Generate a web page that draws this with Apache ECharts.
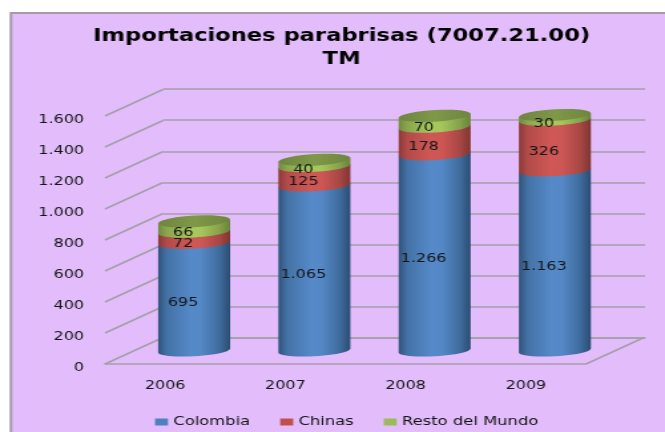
<!DOCTYPE html>
<html>
<head>
<meta charset="utf-8">
<style>
html,body{margin:0;padding:0;width:665px;height:432px;overflow:hidden;background:#fff}
#c{position:absolute;left:0;top:0;width:500px;height:432px;transform-origin:0 0;transform:scaleX(1.33)}
</style>
<script src="https://cdn.jsdelivr.net/npm/echarts@6/dist/echarts.min.js"></script>
</head>
<body>
<div id="c"></div>
<script>
const years = ['2006','2007','2008','2009'];
const colombia = [695,1065,1266,1163];
const chinas = [72,125,178,326];
const resto = [66,40,70,30];
const yMax = 1600, yStep = 200;
const titleText = 'Importaciones parabrisas (7007.21.00)\nTM';

const K = 1.33;                // the picture is stretched horizontally
const px = v => v / K;
const FONT = '"DejaVu Sans", sans-serif';
const ticks = [];
for (let v = 0; v <= yMax; v += yStep) ticks.push(v);
const fmt = v => String(v).replace(/\B(?=(\d{3})+$)/g, '.');

const stacks = [colombia, chinas, resto];
const names = ['Colombia','Chinas','Resto del Mundo'];
const mains = ['#4f81bd','#c0504d','#9bbb59'];
const grads = [
  ['#2f5378','#4472a6','#5589c8','#5488c6','#3f6c9e','#2b4c72'],
  ['#8a3a38','#b24b49','#cf5856','#cd5755','#a84745','#7f3533'],
  ['#6f8a3e','#8aa64e','#a6c85c','#a4c65b','#86a24b','#688238']
];
const hw = px(36), ry = 5.8, slope = -0.055 * K;

function grad(i){
  const g = grads[i], st = [0,0.12,0.45,0.6,0.85,1];
  return {type:'linear',x:0,y:0,x2:1,y2:0,colorStops:g.map((c,j)=>({offset:st[j],color:c}))};
}
function arc(cx, cy, from, to){
  const pts = [], n = 24;
  for (let j = 0; j <= n; j++){
    const t = from + (to - from) * j / n;
    const dx = hw * Math.cos(t);
    pts.push([cx + dx, cy + ry * Math.sin(t) + slope * dx]);
  }
  return pts;
}
function cylinderItem(si){
  return function(params, api){
    const i = api.value(0);
    const base = stacks.slice(0, si).reduce((s, a) => s + a[i], 0);
    const val = stacks[si][i];
    const low = api.coord([i, base]);
    const high = api.coord([i, base + val]);
    const mid = api.coord([i, base + val / 2]);
    const cx = low[0];
    const bottom = arc(cx, low[1], Math.PI, 0);
    const side = [[cx + hw, high[1] + slope * hw],[cx - hw, high[1] - slope * hw]];
    const children = [{
      type:'polygon', shape:{points: bottom.concat(side)},
      style:{fill: grad(si)}
    }];
    if (si === stacks.length - 1){
      children.push({type:'polygon', shape:{points: arc(cx, high[1], 0, 2*Math.PI)},
        style:{fill:{type:'linear',x:0,y:0,x2:1,y2:0,colorStops:[
          {offset:0,color:'#6f8540'},{offset:.5,color:'#7f9849'},{offset:1,color:'#6f8540'}]}},
        z2:5});
    }
    children.push({type:'text', z2:50, x: cx - px(11), y: mid[1] + 6.5,
      style:{text: fmt(val), fill:'#141414', font:'12px ' + FONT, align:'center', verticalAlign:'middle'}});
    return {type:'group', children};
  };
}
const cylSeries = stacks.map((arr, si) => ({
  name: names[si], type:'custom', xAxisIndex:2, yAxisIndex:2,
  itemStyle:{color: mains[si]},
  encode:{x:0,y:1},
  renderItem: cylinderItem(si),
  data: arr.map((v,i)=>[i, v]),
  clip:false, silent:true
}));

const depth = {x: px(58), y: -26.5};
const gridLine = '#a59fa9';
const wallSeries = {
  type:'custom', xAxisIndex:0, yAxisIndex:0, silent:true, clip:false, z:1,
  data: ticks.map(v => [0, v]),
  renderItem(params, api){
    const p = api.coord([0, api.value(1)]);
    const x0 = params.coordSys.x;
    return {type:'line', shape:{x1:x0, y1:p[1], x2:x0+depth.x, y2:p[1]+depth.y},
      style:{stroke:gridLine, lineWidth:1.5}};
  }
};
const floorRight = {
  type:'custom', xAxisIndex:0, yAxisIndex:0, silent:true, clip:false, z:1,
  data:[[0,0]],
  renderItem(params, api){
    const p = api.coord([0, 0]);
    const x1 = params.coordSys.x + params.coordSys.width;
    return {type:'line', shape:{x1:x1, y1:p[1], x2:x1+depth.x, y2:p[1]+depth.y},
      style:{stroke:gridLine, lineWidth:1.5}};
  }
};

const hiddenCat = {type:'category', data:years, axisLine:{show:false}, axisTick:{show:false}, axisLabel:{show:false}, splitLine:{show:false}};
const hiddenVal = {type:'value', min:0, max:yMax, interval:yStep, axisLine:{show:false}, axisTick:{show:false}, axisLabel:{show:false}, splitLine:{show:false}};

const chart = echarts.init(document.getElementById('c'), null, {width:500, height:432, renderer:'canvas'});
chart.setOption({
  animation:false,
  backgroundColor:'#ffffff',
  graphic:[{type:'rect', z:-10, silent:true,
    shape:{x:px(11), y:13, width:520, height:430},
    style:{fill:'#e3bdfb', stroke:'#a59aa9', lineWidth:2}}],
  title:{
    text:titleText, left:px(335), top:20, textAlign:'center',
    textStyle:{fontFamily:FONT, fontSize:17, fontWeight:'bold', color:'#000', lineHeight:23}
  },
  legend:{
    data:names, left:px(155), top:416, padding:0, itemWidth:px(13), itemHeight:7, itemGap:px(30), icon:'rect',
    selectedMode:false,
    textStyle:{fontFamily:FONT, fontSize:12.3, color:'#141414', padding:[0,0,0,-1]}
  },
  grid:[
    {left:px(105), width:px(481), top:116, height:248},
    {left:px(163), width:px(482), top:89, height:249},
    {left:px(134), width:px(481), top:102.5, height:248}
  ],
  xAxis:[
    {type:'category', gridIndex:0, data:years,
      axisLine:{lineStyle:{color:gridLine,width:1.5}}, axisTick:{show:false},
      axisLabel:{fontFamily:FONT, fontSize:12, color:'#141414', margin:16}},
    Object.assign({gridIndex:1}, hiddenCat, {axisLine:{show:true, onZero:false, lineStyle:{color:gridLine,width:1.5}}}),
    Object.assign({gridIndex:2}, hiddenCat)
  ],
  yAxis:[
    {type:'value', gridIndex:0, min:0, max:yMax, interval:yStep,
      axisLine:{show:false}, axisTick:{show:false}, splitLine:{show:false},
      axisLabel:{fontFamily:FONT, fontSize:12, color:'#141414', margin:px(21), verticalAlign:'top', lineHeight:8, formatter:fmt}},
    Object.assign({gridIndex:1}, hiddenVal, {splitLine:{show:true, lineStyle:{color:gridLine,width:1.5}}}),
    Object.assign({gridIndex:2}, hiddenVal)
  ],
  series:[wallSeries, floorRight].concat(cylSeries)
});
</script>
</body>
</html>
